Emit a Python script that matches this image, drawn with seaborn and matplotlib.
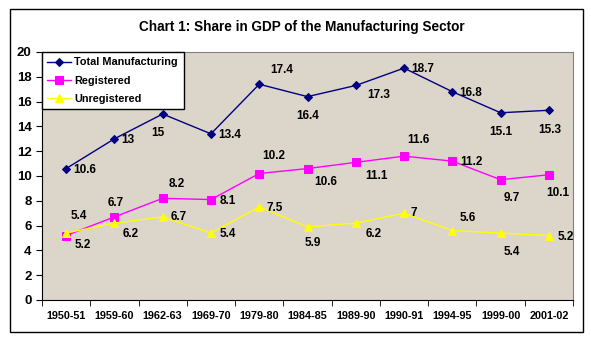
import matplotlib
matplotlib.use("Agg")
import matplotlib.pyplot as plt
import seaborn as sns
import pandas as pd
from matplotlib.patches import Rectangle

categories = ["1950-51", "1959-60", "1962-63", "1969-70", "1979-80", "1984-85",
              "1989-90", "1990-91", "1994-95", "1999-00", "2001-02"]
total = [10.6, 13, 15, 13.4, 17.4, 16.4, 17.3, 18.7, 16.8, 15.1, 15.3]
registered = [5.2, 6.7, 8.2, 8.1, 10.2, 10.6, 11.1, 11.6, 11.2, 9.7, 10.1]
unregistered = [5.4, 6.2, 6.7, 5.4, 7.5, 5.9, 6.2, 7, 5.6, 5.4, 5.2]
series_names = ["Total Manufacturing", "Registered", "Unregistered"]
y_ticks = [0, 2, 4, 6, 8, 10, 12, 14, 16, 18, 20]

# label offsets in points (style only)
off_total = [(5, -3), (5, -3), (-8, -16), (5, -3), (8, 6), (-8, -16), (8, -9), (5, -3), (5, -3), (-8, -16), (-8, -16)]
off_reg = [(6, -9), (-5, 6), (4, 6), (6, -3), (2, 8), (5, -12), (7, -12), (2, 7), (6, -3), (2, -15), (-2, -15)]
off_unr = [(3, 8), (6, -10), (6, -2), (6, -3), (5, -3), (-2, -14), (7, -10), (5, -2), (5, 5), (2, -16), (6, -3)]

df = pd.DataFrame({
    "cat": categories * 3,
    "val": total + registered + unregistered,
    "series": [series_names[0]] * 11 + [series_names[1]] * 11 + [series_names[2]] * 11,
})

plt.rcParams["font.family"] = ["Liberation Sans", "DejaVu Sans"]
plt.rcParams["font.weight"] = "bold"

fig = plt.figure(figsize=(5.91, 3.40), dpi=100)
fig.patch.set_facecolor("white")
fig.patches.append(Rectangle((10 / 591, 8 / 340), 573 / 591, 323 / 340, transform=fig.transFigure,
                             fill=False, edgecolor="black", linewidth=1.0))
ax = fig.add_axes([42 / 591, 1 - 300 / 340, 531 / 591, 248 / 340])
ax.set_facecolor("#dcd5c9")

palette = {"Total Manufacturing": "#000080", "Registered": "#ff00ff", "Unregistered": "#ffff00"}
markers = {"Total Manufacturing": "D", "Registered": "s", "Unregistered": "^"}
sizes = {"Total Manufacturing": 4, "Registered": 6, "Unregistered": 6}
for name in series_names:
    sub = df[df.series == name]
    sns.lineplot(data=sub, x="cat", y="val", ax=ax, color=palette[name], marker=markers[name],
                 markersize=sizes[name], markeredgecolor=palette[name], linewidth=1.0,
                 label=name, sort=False)

for vals, offs in ((total, off_total), (registered, off_reg), (unregistered, off_unr)):
    for i, (v, o) in enumerate(zip(vals, offs)):
        ax.annotate(f"{v:g}", (i, v), xytext=o, textcoords="offset points",
                    fontsize=8.5, fontweight="bold", color="black", va="bottom" if o[1] > 0 else "baseline")

ax.set_xlim(-0.5, 10.5)
ax.set_ylim(0, 20)
ax.set_yticks(y_ticks)
ax.set_xticks(range(len(categories)))
ax.set_xticklabels(categories, fontsize=7.8, fontweight="bold")
ax.set_xticks([i - 0.5 for i in range(len(categories) + 1)], minor=True)
ax.tick_params(axis="x", which="major", length=0, pad=8)
ax.tick_params(axis="x", which="minor", length=4, direction="out")
ax.tick_params(axis="y", length=4, direction="out", labelsize=9.5)
for t in ax.get_yticklabels():
    t.set_fontweight("bold")
ax.set_xlabel("")
ax.set_ylabel("")
for s in ["top", "right"]:
    ax.spines[s].set_color("#808080")
for s in ["left", "bottom"]:
    ax.spines[s].set_color("black")

leg = ax.legend(loc="upper left", bbox_to_anchor=(0, 1), frameon=True, fancybox=False,
                edgecolor="black", facecolor="white", framealpha=1, fontsize=7.8,
                handlelength=2.2, handletextpad=0.3, borderaxespad=0, labelspacing=0.75,
                borderpad=0.5)
leg.get_frame().set_linewidth(1.0)
for t in leg.get_texts():
    t.set_fontweight("bold")

fig.text(302 / 591, 1 - 27 / 340, "Chart 1: Share in GDP of the Manufacturing Sector",
         ha="center", va="center", fontsize=9.8, fontweight="bold")

fig.savefig("out.png", dpi=100)
